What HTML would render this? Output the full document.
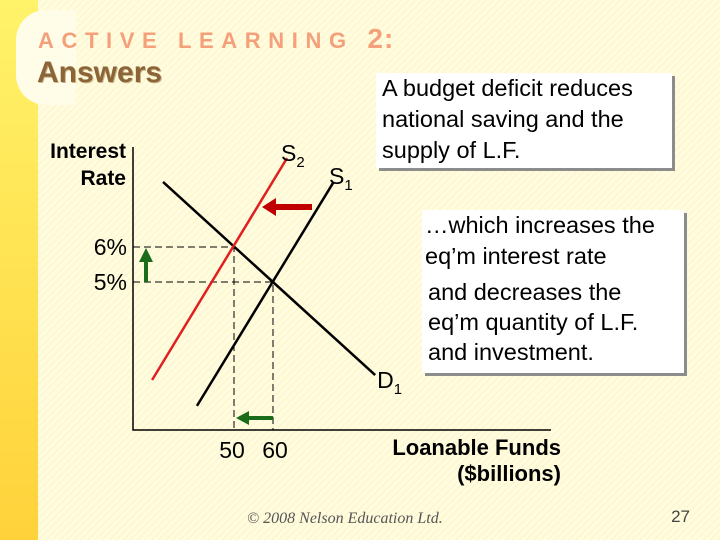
<!DOCTYPE html>
<html><head><meta charset="utf-8"><style>
body{margin:0;width:720px;height:540px;overflow:hidden;font-family:"Liberation Sans",sans-serif;}
#bg{position:absolute;left:0;top:0;width:720px;height:540px;background:repeating-linear-gradient(135deg,#fffce0 0 3px,#fdf7d2 3px 5px);}
#band{position:absolute;left:0;top:0;width:38px;height:540px;background:linear-gradient(#fff36a,#ffd23a);}
#bump{position:absolute;left:16px;top:10px;width:60px;height:95px;border-radius:30px 0 0 30px;background:#fffce8;}
.box{position:absolute;background:#fff;box-shadow:3px 3px 0 #8c8c8c;font-size:23.5px;line-height:31px;color:#000;white-space:nowrap;}
</style></head><body>
<div id="bg"></div>
<div id="band"></div>
<div id="bump"></div>
<div style="position:absolute;left:38px;top:23px;font-weight:bold;font-size:22px;letter-spacing:7.6px;color:#f4a07a;">ACTIVE LEARNING <span style="font-size:28px;letter-spacing:1px">2:</span></div>
<div style="position:absolute;left:37px;top:56px;font-weight:bold;font-size:30px;color:#8b6437;text-shadow:1px 1px 0 #c9b48c">Answers</div>
<div class="box" style="left:376px;top:73px;width:290px;height:95px;padding-left:6px">A budget deficit reduces<br>national saving and the<br>supply of L.F.</div>
<div class="box" style="left:422px;top:210px;width:262px;height:163px;">
<div style="padding-left:3px;line-height:31px">…which increases the<br>eq’m interest rate</div>
<div style="padding-left:6px;line-height:30px;margin-top:5px">and decreases the<br>eq’m quantity of L.F.<br>and investment.</div></div>
<svg width="720" height="540" style="position:absolute;left:0;top:0" font-family="Liberation Sans, sans-serif">
<g id="chart"></g>
<text x="126" y="158" text-anchor="end" font-size="21" font-weight="bold">Interest</text>
<text x="126" y="185" text-anchor="end" font-size="21" font-weight="bold">Rate</text>
<text x="561" y="455" text-anchor="end" font-size="22" font-weight="bold">Loanable Funds</text>
<text x="561" y="481" text-anchor="end" font-size="22" font-weight="bold">($billions)</text>
<text x="247" y="523" font-size="16" font-style="italic" fill="#555" font-family="Liberation Serif, serif">© 2008 Nelson Education Ltd.</text>
<text x="690" y="522" text-anchor="end" font-size="17" fill="#444">27</text>
</svg>
<script>
const rateTicks=[6,5];
const qtyTicks=[50,60];
const demandD1=[[31.8,7.86],[86.2,2.34]];
const supplyS1=[[40.5,1.46],[75.4,7.83]];
const supplyS2=[[29.0,2.2],[63.6,8.54]];
const eqOld=[60,5], eqNew=[50,6];
const X=q=>234+(q-50)*3.9, Y=r=>282-(r-5)*35;
const NS="http://www.w3.org/2000/svg", g=document.getElementById('chart');
function mk(t,a){const e=document.createElementNS(NS,t);for(const k in a)e.setAttribute(k,a[k]);g.appendChild(e);return e;}
let e;
e=mk('path',{d:'M133 147V430H551',stroke:'#000','stroke-width':1.5,fill:'none'});

[eqOld,eqNew].forEach(p=>{
 e=mk('path',{d:`M133 ${Y(p[1])}H${X(p[0])}V430`,stroke:'#000','stroke-width':1,'stroke-dasharray':'7 4',fill:'none'});
 
});
rateTicks.forEach(r=>{e=mk('text',{x:127,y:Y(r)+8,'text-anchor':'end','font-size':23});e.textContent=r+'%';
 });
qtyTicks.forEach(q=>{e=mk('text',{x:X(q)+(q===50?-2:2),y:458,'text-anchor':'middle','font-size':23});e.textContent=q;
 });
function line(d,c,n){e=mk('line',{x1:X(d[0][0]),y1:Y(d[0][1]),x2:X(d[1][0]),y2:Y(d[1][1]),stroke:c,'stroke-width':2.5});
 }
line(demandD1,'#000','demand-d1');line(supplyS1,'#000','supply-s1');line(supplyS2,'#e02020','supply-s2');
function lab(x,y,m,s,n){e=mk('text',{x:x,y:y,'font-size':23});e.innerHTML=m+`<tspan font-size="15" dy="6">${s}</tspan>`;
 }
lab(X(supplyS2[1][0])-6,Y(supplyS2[1][1])+3,'S','2','s2-label');
lab(X(supplyS1[1][0])-4,Y(supplyS1[1][1])+1,'S','1','s1-label');
lab(X(demandD1[1][0])+2,Y(demandD1[1][1])+13,'D','1','d1-label');
e=mk('path',{d:'M312 204H276V198L262 207L276 216V210H312Z',fill:'#c00000'});

e=mk('path',{d:`M144 ${Y(5)}V262H139L146 248L153 262H148V${Y(5)}Z`,fill:'#1a6b1a'});

e=mk('path',{d:`M${X(60)} 416H249V411L236 418L249 425V420H${X(60)}Z`,fill:'#1a6b1a'});

</script>
</body></html>
